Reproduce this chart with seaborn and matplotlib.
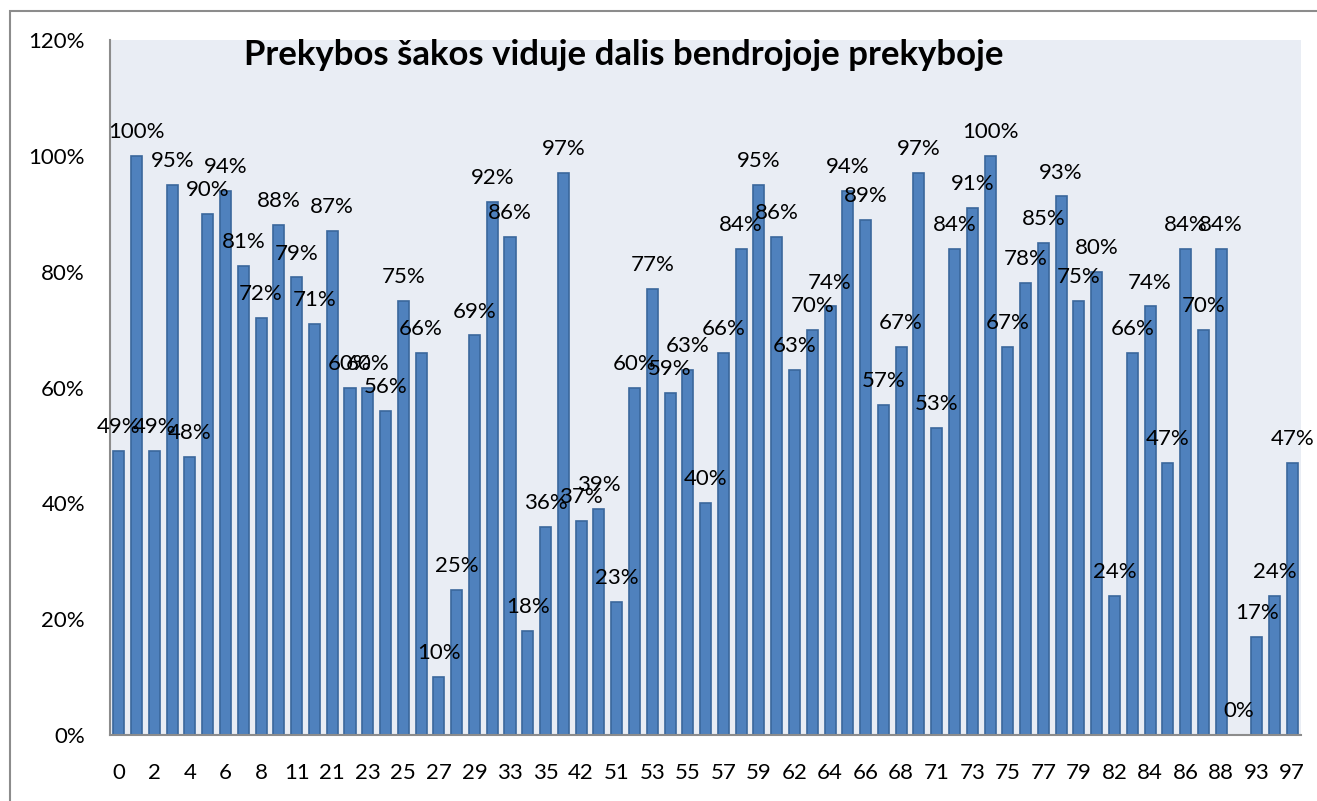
import matplotlib.pyplot as plt
import pandas as pd
import seaborn as sns
from matplotlib.patches import Rectangle
from matplotlib.ticker import PercentFormatter

# -------------------------------------------------------------
# DATA
# -------------------------------------------------------------
codes = [
    "0", "1", "2", "3", "4", "5", "6", "7", "8", "10",
    "11", "20", "21", "22", "23", "24", "25", "26", "27", "28",
    "29", "32", "33", "34", "35", "41", "42", "46", "51", "52",
    "53", "54", "55", "56", "57", "58", "59", "61", "62", "63",
    "64", "65", "66", "67", "68", "70", "71", "72", "73", "74",
    "75", "76", "77", "78", "79", "81", "82", "83", "84", "85",
    "86", "87", "88", "91", "93", "96", "97",
]
shares = [
    49, 100, 49, 95, 48, 90, 94, 81, 72, 88,
    79, 71, 87, 60, 60, 56, 75, 66, 10, 25,
    69, 92, 86, 18, 36, 97, 37, 39, 23, 60,
    77, 59, 63, 40, 66, 84, 95, 86, 63, 70,
    74, 94, 89, 57, 67, 97, 53, 84, 91, 100,
    67, 78, 85, 93, 75, 80, 24, 66, 74, 47,
    84, 70, 84, 0, 17, 24, 47,
]
title = "Prekybos šakos viduje dalis bendrojoje prekyboje"

df = pd.DataFrame({"code": codes, "share": shares})

plt.rcParams["font.family"] = ["Lato", "DejaVu Sans"]

fig = plt.figure(figsize=(13.17, 8.01), dpi=100)
ax = fig.add_axes([0.0835, 0.0824, 0.9045, 0.8676])
ax.set_facecolor("#E9EDF4")

sns.barplot(
    data=df, x="code", y="share", order=codes, ax=ax,
    color="#4F81BD", edgecolor="#3A679C", linewidth=1.2,
    width=0.62, saturation=1,
)

# value labels above bars
for i, v in enumerate(shares):
    ax.annotate(f"{v}%", (i, v), xytext=(0, 10), textcoords="offset points",
                ha="center", va="bottom", fontsize=16, color="black")

ax.set_xlim(-0.5, len(codes) - 0.5)
ax.set_ylim(0, 120)
ax.set_yticks(range(0, 121, 20))
ax.yaxis.set_major_formatter(PercentFormatter(decimals=0))
ax.set_xticks(range(0, len(codes), 2))
ax.set_xticklabels(codes[::2])
ax.tick_params(axis="both", length=0, labelsize=16, colors="black")
ax.tick_params(axis="y", pad=18)
ax.tick_params(axis="x", pad=20)
ax.set_xlabel("")
ax.set_ylabel("")

for side in ["top", "right"]:
    ax.spines[side].set_visible(False)
for side in ["left", "bottom"]:
    ax.spines[side].set_color("#8C8C8C")
    ax.spines[side].set_linewidth(1.5)

ax.text(0.431, 0.978, title, transform=ax.transAxes, ha="center", va="center",
        fontsize=25, fontweight="bold")

# outer chart border (only top and left visible in the crop)
fig.add_artist(Rectangle((10 / 1317, -0.1), 1.2, 0.1 + 1 - 11 / 801,
                         transform=fig.transFigure, fill=False,
                         edgecolor="#8C8C8C", linewidth=1.5))

fig.savefig("out.png", dpi=100, facecolor="white")
